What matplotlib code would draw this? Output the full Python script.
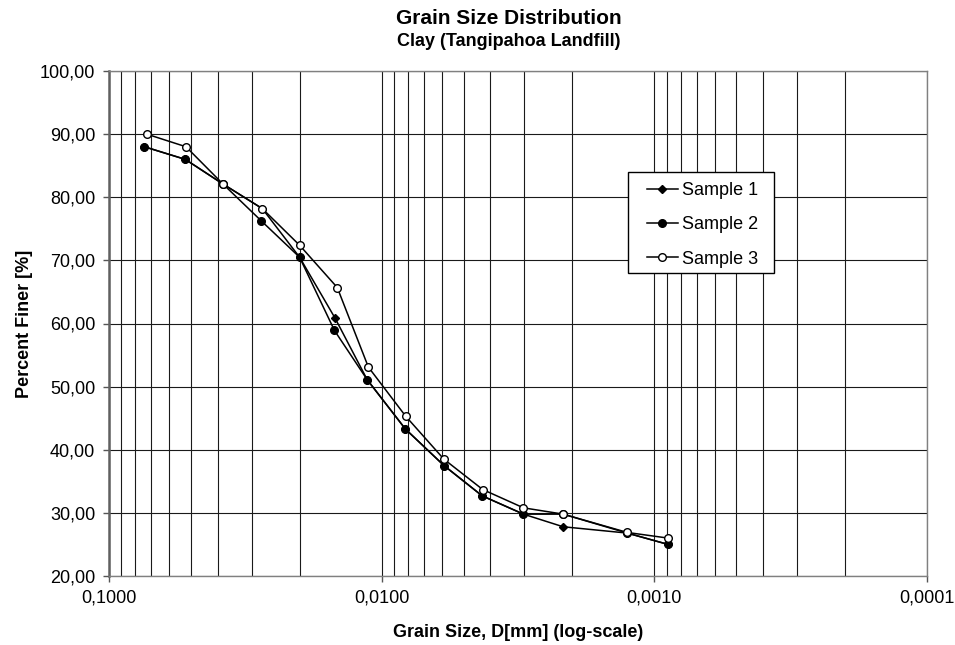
import numpy as np
import matplotlib
matplotlib.use('Agg')
import matplotlib.pyplot as plt
from matplotlib.patches import Rectangle
from matplotlib.ticker import LogLocator, FixedLocator, FuncFormatter, NullFormatter

plt.rcParams['font.family'] = ['Liberation Sans', 'DejaVu Sans']

# Diâmetros (mm) e percentuais passantes de cada amostra
d_amostra1 = [0.0742, 0.0525, 0.0382, 0.0274, 0.0200, 0.0148, 0.0113, 0.00819, 0.00591, 0.00428, 0.00302, 0.00216, 0.001257, 0.000890]
p_amostra1 = [88.0, 86.0, 82.1, 78.2, 70.5, 60.8, 51.1, 43.3, 37.5, 32.7, 29.8, 27.8, 26.8, 25.0]

d_amostra2 = [0.0742, 0.0525, 0.0382, 0.0277, 0.0200, 0.0149, 0.0113, 0.00819, 0.00591, 0.00428, 0.00302, 0.00216, 0.001257, 0.000890]
p_amostra2 = [88.0, 86.0, 82.1, 76.3, 70.5, 58.9, 51.1, 43.3, 37.5, 32.7, 29.8, 29.8, 26.8, 25.0]

d_amostra3 = [0.0727, 0.0522, 0.0382, 0.0274, 0.0200, 0.01455, 0.01119, 0.00816, 0.00591, 0.00426, 0.00302, 0.00216, 0.001257, 0.000889]
p_amostra3 = [90.0, 88.0, 82.1, 78.2, 72.4, 65.7, 53.1, 45.3, 38.5, 33.7, 30.8, 29.8, 26.9, 26.0]

nomes = ['Sample 1', 'Sample 2', 'Sample 3']
x_ticks = [0.1, 0.01, 0.001, 0.0001]
y_ticks = [20, 30, 40, 50, 60, 70, 80, 90, 100]


def virgula(valor, casas):
    # Formato decimal com vírgula
    return f"{valor:.{casas}f}".replace('.', ',')


def main():
    fig = plt.figure(figsize=(9.55, 6.45), dpi=100)
    ax = fig.add_axes([109 / 955, 1 - 576 / 645, 818 / 955, 505 / 645])

    ax.set_xscale('log')
    ax.set_xlim(0.1, 0.0001)
    ax.set_ylim(20, 100)

    # Grade: todas as divisões logarítmicas no eixo x
    ax.xaxis.set_major_locator(FixedLocator(x_ticks))
    ax.xaxis.set_minor_locator(LogLocator(base=10, subs=np.arange(2, 10)))
    ax.xaxis.set_minor_formatter(NullFormatter())
    ax.xaxis.set_major_formatter(FuncFormatter(lambda v, p: virgula(v, 4)))
    ax.yaxis.set_major_locator(FixedLocator(y_ticks))
    ax.yaxis.set_major_formatter(FuncFormatter(lambda v, p: virgula(v, 2)))

    ax.grid(True, which='both', axis='x', color='#1a1a1a', linewidth=0.8)
    ax.grid(True, which='major', axis='y', color='#1a1a1a', linewidth=0.8)
    ax.set_axisbelow(True)

    ax.tick_params(axis='both', which='major', direction='out', length=4, width=1,
                   color='#555555', labelsize=13, pad=6)
    ax.tick_params(axis='x', which='minor', length=0)
    for lado in ['top', 'right', 'bottom']:
        ax.spines[lado].set_color('#808080')
        ax.spines[lado].set_linewidth(1.0)
    ax.spines['left'].set_color('#606060')
    ax.spines['left'].set_linewidth(1.8)

    # Curvas granulométricas
    ax.plot(d_amostra1, p_amostra1, color='black', linewidth=1.1, marker='D',
            markersize=4.5, markerfacecolor='black', label=nomes[0], zorder=3)
    ax.plot(d_amostra2, p_amostra2, color='black', linewidth=1.1, marker='o',
            markersize=5.5, markerfacecolor='black', label=nomes[1], zorder=4)
    ax.plot(d_amostra3, p_amostra3, color='black', linewidth=1.1, marker='o',
            markersize=5.5, markerfacecolor='white', markeredgewidth=1.0,
            label=nomes[2], zorder=5)

    ax.set_xlabel('Grain Size, D[mm] (log-scale)', fontsize=13, fontweight='bold', labelpad=12)
    ax.set_ylabel('Percent Finer [%]', fontsize=13, fontweight='bold', labelpad=5)

    fig.text(509 / 955, 1 - 18 / 645, 'Grain Size Distribution', ha='center', va='center',
             fontsize=15, fontweight='bold')
    fig.text(509 / 955, 1 - 42 / 645, 'Clay (Tangipahoa Landfill)', ha='center', va='center',
             fontsize=13, fontweight='bold')

    # Caixa da legenda desenhada à parte (margens maiores nas laterais)
    caixa = Rectangle((0.635, 0.5994), 0.1784, 0.2012, transform=ax.transAxes,
                      facecolor='white', edgecolor='black', linewidth=1.0, zorder=6)
    ax.add_patch(caixa)
    leg = ax.legend(loc='upper left', bbox_to_anchor=(0.6577, 0.780), borderaxespad=0,
                    fontsize=13, frameon=False, handlelength=1.7,
                    handletextpad=0.25, labelspacing=0.96, borderpad=0)
    leg.set_zorder(7)

    fig.savefig('out.png', dpi=100, facecolor='white')


if __name__ == "__main__":
    main()
